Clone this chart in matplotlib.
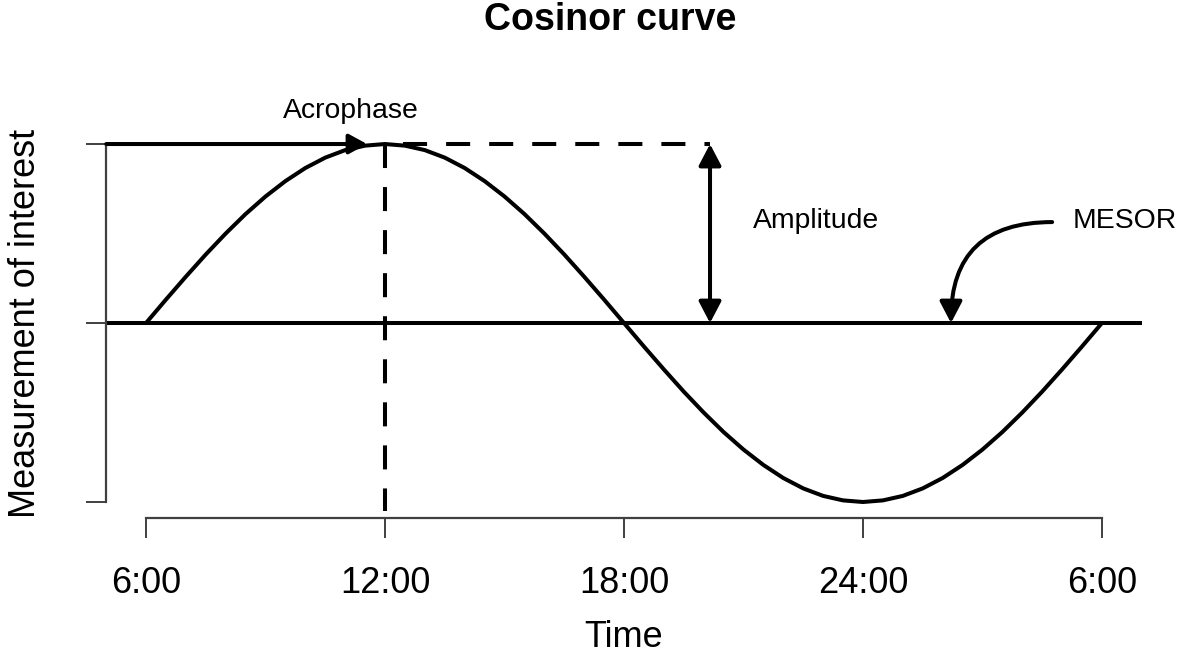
#!/usr/bin/env python3
import matplotlib

matplotlib.use("Agg")
import matplotlib.pyplot as plt
import numpy as np
from matplotlib.patches import FancyArrowPatch

# half-hourly readings of the curve, 6:00 -> 6:00 next day
HOURS = np.arange(6.0, 30.5, 0.5)
VALUES = [
    0.000, 0.131, 0.259, 0.383, 0.500, 0.609, 0.707, 0.793, 0.866, 0.924,
    0.966, 0.991, 1.000, 0.991, 0.966, 0.924, 0.866, 0.793, 0.707, 0.609,
    0.500, 0.383, 0.259, 0.131, 0.000, -0.131, -0.259, -0.383, -0.500,
    -0.609, -0.707, -0.793, -0.866, -0.924, -0.966, -0.991, -1.000, -0.991,
    -0.966, -0.924, -0.866, -0.793, -0.707, -0.609, -0.500, -0.383, -0.259,
    -0.131, 0.000,
]
TICK_HOURS = [6, 12, 18, 24, 30]
TICK_LABELS = ["6:00", "12:00", "18:00", "24:00", "6:00"]
Y_TICKS = [-1, 0, 1]

MESOR = 0.0
PEAK = 1.0
ACROPHASE = 12.0
AMPLITUDE_AT = 20.16

FONT = ["Liberation Sans", "DejaVu Sans"]
AXIS_GREY = "#404040"
LW = 2.9


def main():
    plt.rcParams["font.family"] = FONT
    plt.rcParams["lines.scale_dashes"] = False

    fig = plt.figure(figsize=(11.8, 6.56), dpi=100)
    ax = fig.add_axes([0.0900, 0.2102, 0.8776, 0.5948])
    ax.set_xlim(5, 31)
    ax.set_ylim(-1.09, 1.09)

    # axes, R style
    for side in ("top", "right"):
        ax.spines[side].set_visible(False)
    ax.spines["left"].set_bounds(-1, 1)
    ax.spines["bottom"].set_bounds(6, 30)
    for side in ("left", "bottom"):
        ax.spines[side].set_color(AXIS_GREY)
        ax.spines[side].set_linewidth(1.6)
    ax.set_xticks(TICK_HOURS)
    ax.set_xticklabels(TICK_LABELS)
    ax.set_yticks(Y_TICKS)
    ax.set_yticklabels([])
    ax.tick_params(direction="out", length=14.4, width=1.4, color=AXIS_GREY)
    ax.tick_params(axis="x", labelsize=26, pad=20)

    ax.set_xlabel("Time", fontsize=26)
    ax.xaxis.label.set_va("baseline")
    ax.xaxis.set_label_coords(0.5, -0.3303)
    ax.set_ylabel("Measurement of interest", fontsize=26)
    ax.yaxis.label.set_va("baseline")
    ax.yaxis.set_label_coords(-0.0688, 0.5)

    fig.text(610 / 1180, 0.9543, "Cosinor curve", ha="center", va="baseline",
             fontsize=27, fontweight="bold")

    # MESOR line and the curve
    ax.axhline(MESOR, color="black", lw=LW)
    ax.plot(HOURS, VALUES, color="black", lw=LW, solid_capstyle="round")

    # acrophase guides
    ax.plot([ACROPHASE, ACROPHASE], [PEAK, -1.05], color="black", lw=LW,
            linestyle=(0, (17.3, 13.7)))
    ax.plot([ACROPHASE, AMPLITUDE_AT], [PEAK, PEAK], color="black", lw=LW,
            linestyle=(18, (17.3, 13.7)))

    ax.annotate("", xy=(11.55, PEAK), xytext=(5.0, PEAK),
                arrowprops=dict(arrowstyle="-|>,head_length=0.55,head_width=0.3",
                                mutation_scale=20, lw=LW, color="black",
                                shrinkA=0, shrinkB=0), annotation_clip=False)
    ax.text(11.15, 1.145, "Acrophase", ha="center", va="baseline", fontsize=20.4)

    # amplitude
    ax.annotate("", xy=(AMPLITUDE_AT, PEAK), xytext=(AMPLITUDE_AT, MESOR),
                arrowprops=dict(arrowstyle="<|-|>,head_length=0.65,head_width=0.34",
                                mutation_scale=20, lw=LW, color="black",
                                shrinkA=0, shrinkB=0))
    ax.text(21.24, 0.531, "Amplitude", ha="left", va="baseline", fontsize=20.4)

    # MESOR pointer
    arrow = FancyArrowPatch((28.75, 0.564), (26.21, MESOR),
                            connectionstyle="angle3,angleA=0,angleB=90",
                            arrowstyle="-|>,head_length=0.65,head_width=0.34",
                            mutation_scale=20, lw=LW, color="black",
                            shrinkA=0, shrinkB=0)
    ax.add_patch(arrow)
    ax.text(29.27, 0.531, "MESOR", ha="left", va="baseline", fontsize=20.4,
            clip_on=False)

    fig.savefig("out.png", dpi=100)


if __name__ == "__main__":
    main()
